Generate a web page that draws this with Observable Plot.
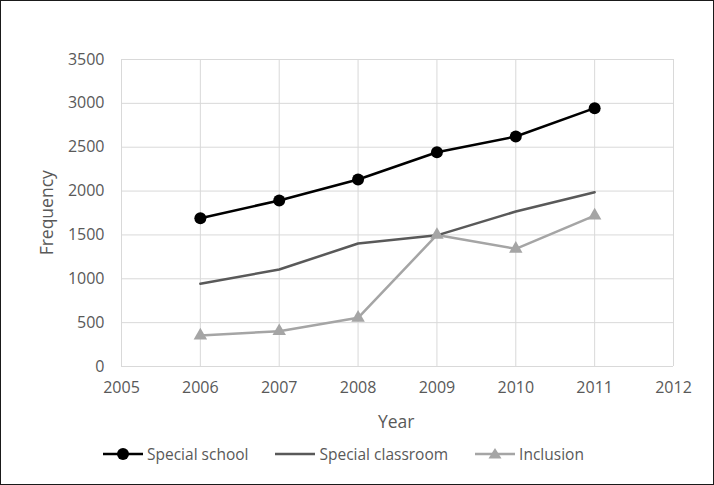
<!DOCTYPE html>
<html><head><meta charset="utf-8">
<script src="https://cdn.jsdelivr.net/npm/d3@7"></script>
<script src="https://cdn.jsdelivr.net/npm/@observablehq/plot@0.6"></script>
<style>
body{margin:0;background:#fff;}
#wrap{position:relative;width:714px;height:485px;box-sizing:border-box;border:1px solid #1a1a1a;font-family:"Open Sans",sans-serif;color:#595959;overflow:hidden;}
#chart{position:absolute;left:0;top:0;}
.title{position:absolute;font-size:17.5px;color:#595959;white-space:nowrap;line-height:1;}
#legend{position:absolute;top:442px;left:102px;display:flex;font-size:15.5px;}
.item{display:flex;align-items:center;margin-right:27px;}
.item svg{margin-right:4px;}
</style></head>
<body>
<div id="wrap">
  <div class="title" id="xt" style="left:377px;top:412px;">Year</div>
  <div class="title" id="yt" style="left:1px;top:203px;transform:rotate(-90deg);transform-origin:center;width:90px;text-align:center;">Frequency</div>
  <div id="chart"></div>
  <div id="legend"></div>
</div>
<script>
const years = [2006, 2007, 2008, 2009, 2010, 2011];
const specialSchool = [1691, 1893, 2132, 2443, 2622, 2945];
const specialClassroom = [943, 1106, 1402, 1495, 1767, 1987];
const inclusion = [353, 403, 555, 1500, 1342, 1721];
const seriesNames = ["Special school", "Special classroom", "Inclusion"];
const seriesColors = ["#000000", "#595959", "#a5a5a5"];
const xTicks = [2005, 2006, 2007, 2008, 2009, 2010, 2011, 2012];
const yTicks = [0, 500, 1000, 1500, 2000, 2500, 3000, 3500];

const seriesValues = [specialSchool, specialClassroom, inclusion];
const data = [];
seriesNames.forEach((name, i) => years.forEach((yr, j) => data.push({series: name, year: yr, value: seriesValues[i][j]})));
const school = data.filter(d => d.series === seriesNames[0]);
const classroom = data.filter(d => d.series === seriesNames[1]);
const incl = data.filter(d => d.series === seriesNames[2]);

const chart = Plot.plot({
  width: 712, height: 440,
  marginLeft: 120, marginRight: 40, marginTop: 58, marginBottom: 75,
  style: {fontFamily: "'Open Sans', sans-serif", fontSize: "16px", color: "#595959", background: "transparent"},
  x: {domain: [2005, 2012], ticks: xTicks, tickFormat: d3.format("d"), label: null},
  y: {domain: [0, 3500], ticks: yTicks, tickFormat: d3.format("d"), label: null},
  marks: [
    Plot.gridX(xTicks, {stroke: "#d9d9d9", strokeOpacity: 1, strokeWidth: 1}),
    Plot.gridY(yTicks, {stroke: "#d9d9d9", strokeOpacity: 1, strokeWidth: 1}),
    Plot.axisX(xTicks, {tickSize: 0, tickPadding: 15, tickFormat: d3.format("d"), label: null, fill: "#595959"}),
    Plot.axisY(yTicks, {tickSize: 0, tickPadding: 17, tickFormat: d3.format("d"), label: null, fill: "#595959"}),
    Plot.line(incl, {x: "year", y: "value", stroke: seriesColors[2], strokeWidth: 2.5}),
    Plot.line(classroom, {x: "year", y: "value", stroke: seriesColors[1], strokeWidth: 2.5}),
    Plot.line(school, {x: "year", y: "value", stroke: seriesColors[0], strokeWidth: 2.5}),
    Plot.dot(incl, {x: "year", y: "value", symbol: "triangle", r: 5, fill: seriesColors[2], stroke: "none"}),
    Plot.dot(school, {x: "year", y: "value", symbol: "circle", r: 6, fill: seriesColors[0], stroke: "none"})
  ]
});
document.getElementById("chart").appendChild(chart);

const legend = document.getElementById("legend");
const markers = ["circle", "none", "triangle"];
seriesNames.forEach((name, i) => {
  const item = document.createElement("div");
  item.className = "item";
  let sym = "";
  if (markers[i] === "circle") sym = `<circle cx="20" cy="10" r="6" fill="${seriesColors[i]}"/>`;
  if (markers[i] === "triangle") sym = `<path d="M20,4 L26.5,14.5 L13.5,14.5 Z" fill="${seriesColors[i]}"/>`;
  item.innerHTML = `<svg width="40" height="20"><line x1="0" x2="40" y1="10" y2="10" stroke="${seriesColors[i]}" stroke-width="2.5"/>${sym}</svg><span>${name}</span>`;
  legend.appendChild(item);
});
</script>
</body></html>
